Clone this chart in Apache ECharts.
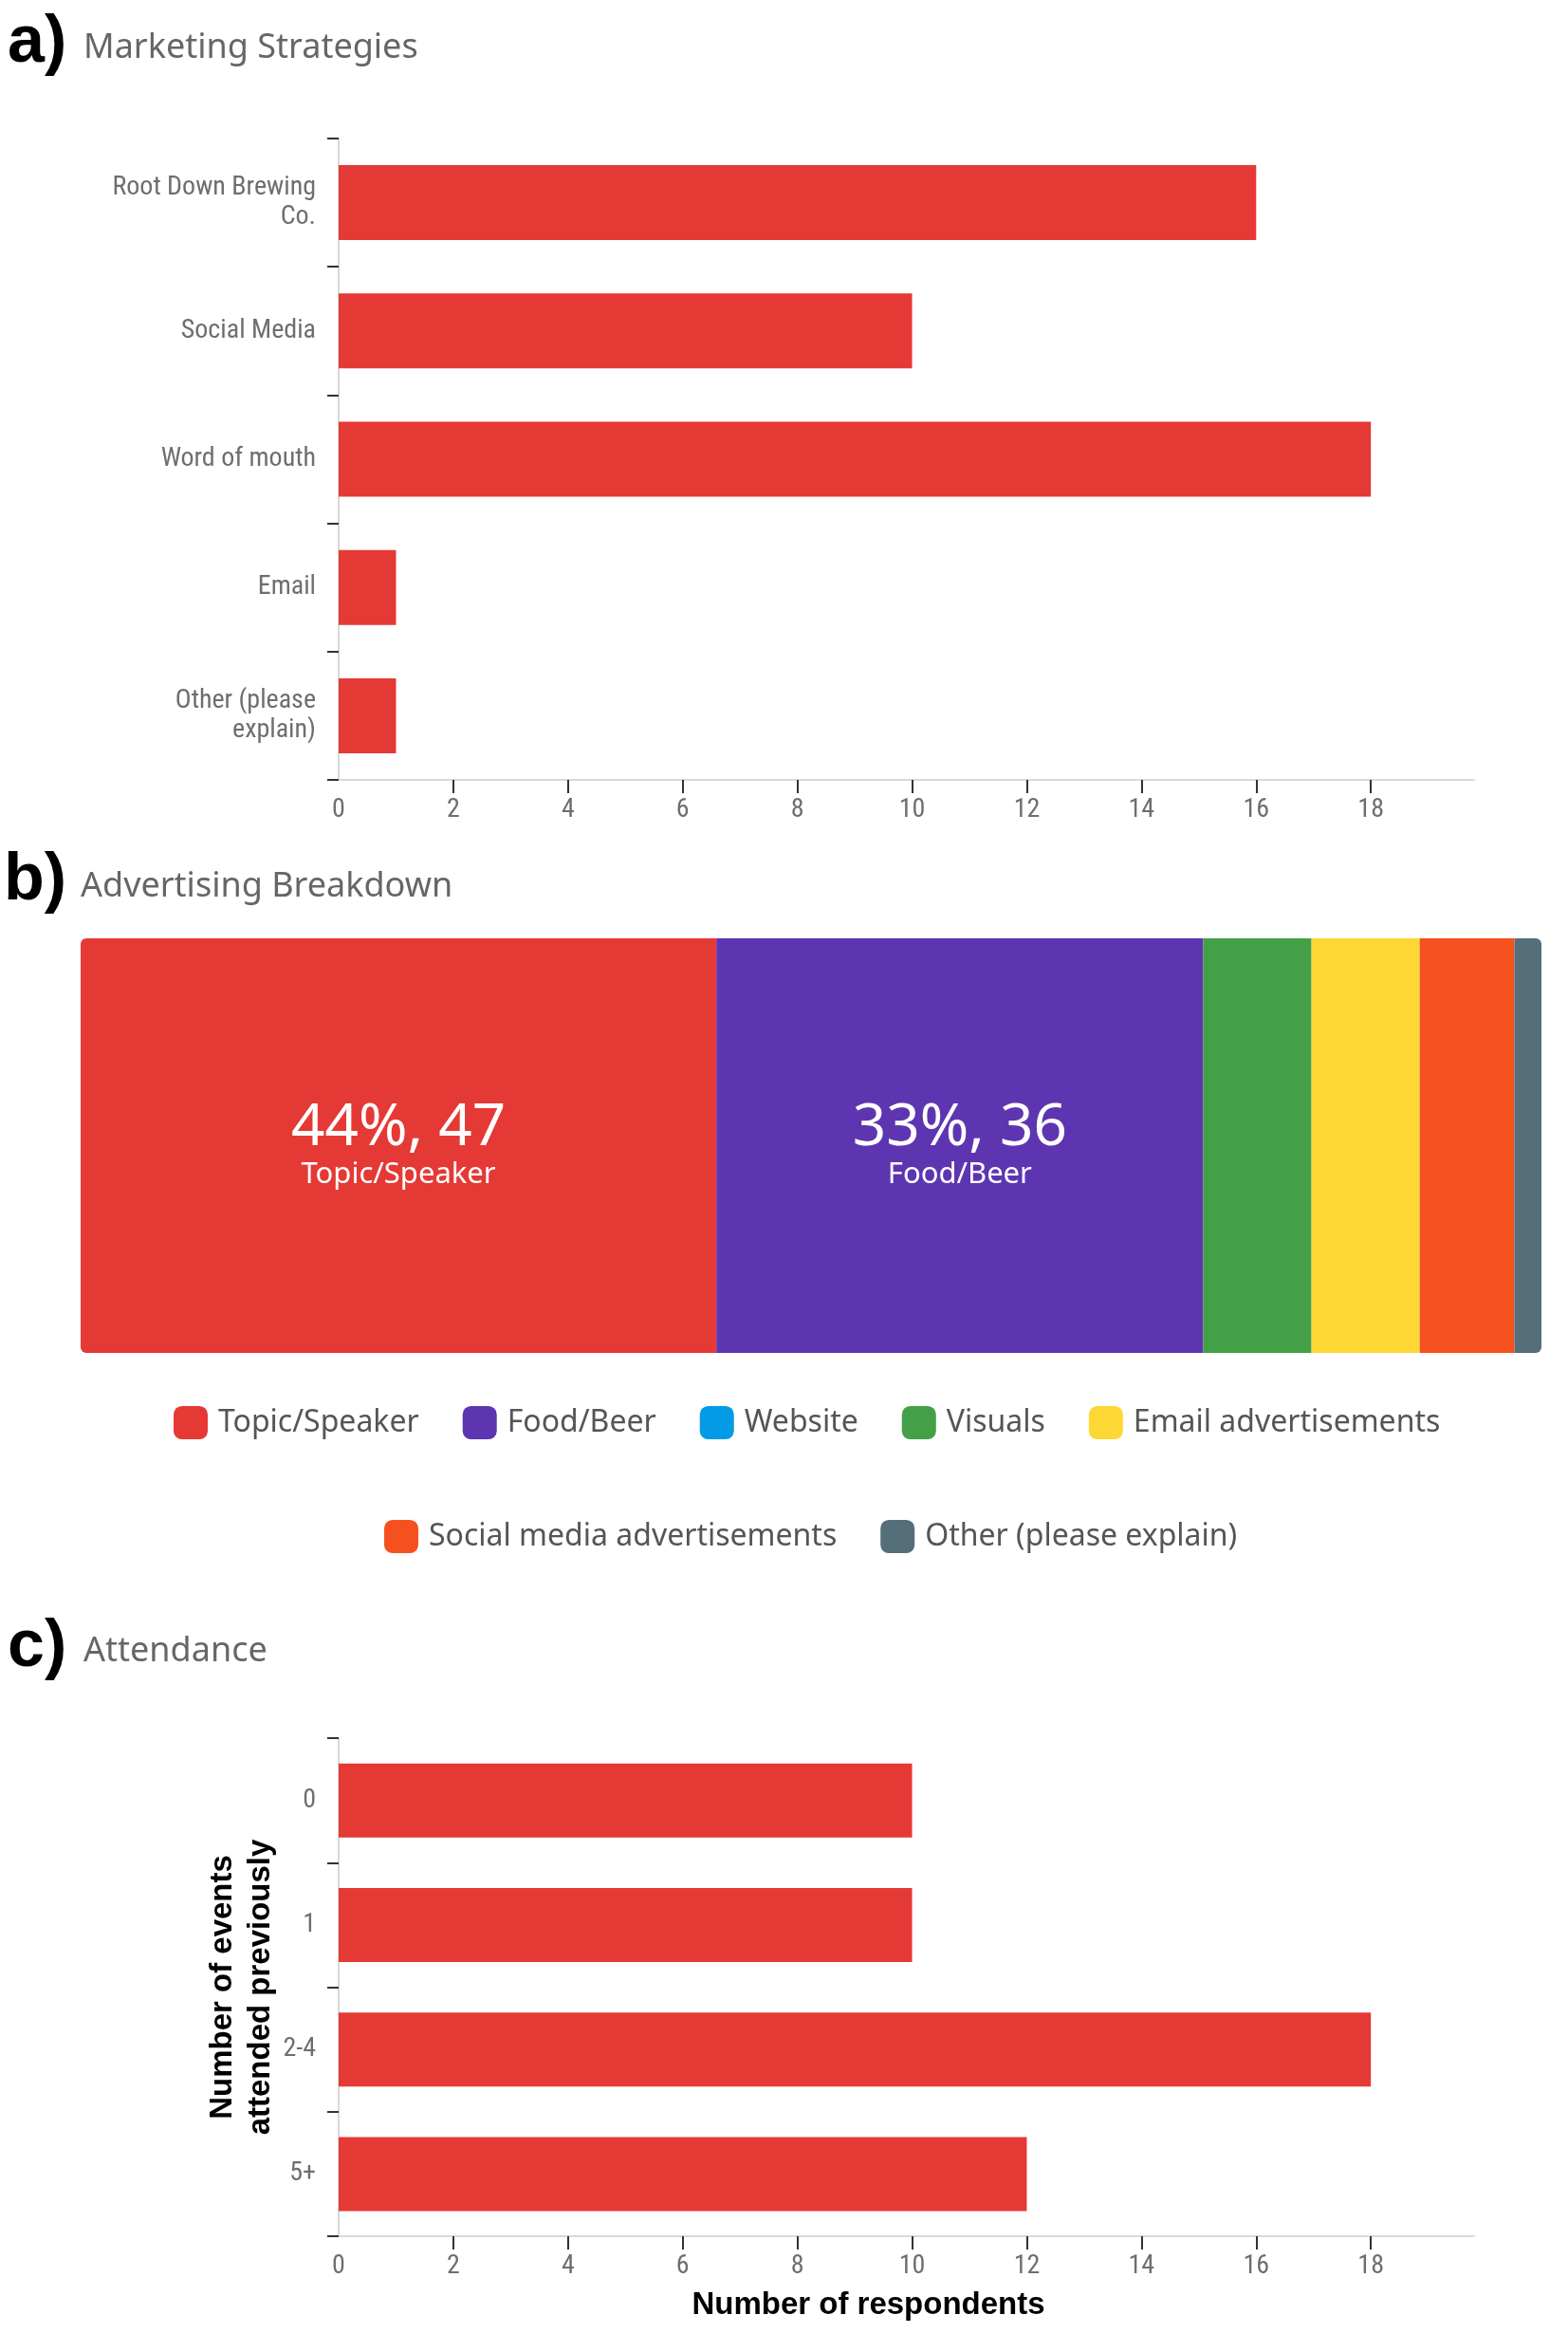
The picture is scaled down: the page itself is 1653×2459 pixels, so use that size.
<!DOCTYPE html>
<html>
<head>
    <meta charset="utf-8">
    <title>Survey results</title>
    <script src="https://cdn.jsdelivr.net/npm/echarts@6/dist/echarts.min.js"></script>
    <style>
        html, body { margin: 0; padding: 0; background: #fff; }
        #main { width: 1653px; height: 2459px; }
    </style>
</head>
<body>
<div id="main"></div>
<script type="text/javascript">
    // a) Marketing Strategies
    let strategyNames = ['Root Down Brewing\nCo.', 'Social Media', 'Word of mouth', 'Email', 'Other (please\nexplain)']
    let strategyCounts = [16, 10, 18, 1, 1]

    // b) Advertising Breakdown
    let adNames = ['Topic/Speaker', 'Food/Beer', 'Website', 'Visuals', 'Email advertisements',
        'Social media advertisements', 'Other (please explain)']
    let adCounts = [47, 36, 0, 8, 8, 7, 2]
    let adColors = ['#e53935', '#5e35b1', '#039be5', '#43a047', '#fdd835', '#f4511e', '#546e7a']

    // c) Attendance
    let attendNames = ['0', '1', '2-4', '5+']
    let attendCounts = [10, 10, 18, 12]

    // shared x axis ticks for a) and c)
    let xTickLabels = [0, 2, 4, 6, 8, 10, 12, 14, 16, 18]
    let xTickMarks = [2, 4, 6, 8, 10, 12, 14, 16, 18]
    let xMax = 19.8

    let narrowFont = "'Liberation Sans Narrow', 'Roboto Condensed', 'DejaVu Sans Condensed', Roboto, sans-serif"
    let labelGray = '#6e6e6e'
    let red = '#e53935'

    let adTotal = adCounts.reduce((s, v) => s + v, 0)

    let myChart = echarts.init(document.getElementById('main'))

    function catAxis(gridIndex, data) {
        return {
            type: 'category',
            gridIndex: gridIndex,
            data: data,
            inverse: true,
            axisLine: { show: true, lineStyle: { color: '#d9d9d9', width: 2 } },
            axisTick: { show: true, length: 12, lineStyle: { color: '#333', width: 2 } },
            axisLabel: { color: labelGray, fontSize: 28, fontFamily: narrowFont, margin: 24, lineHeight: 31 }
        }
    }

    function valAxis(gridIndex) {
        return {
            type: 'value',
            gridIndex: gridIndex,
            min: 0,
            max: xMax,
            interval: 2,
            axisLine: { show: true, lineStyle: { color: '#d9d9d9', width: 2 } },
            axisTick: { show: true, length: 14, lineStyle: { color: '#333', width: 2 }, customValues: xTickMarks },
            axisLabel: { color: labelGray, fontSize: 28, fontFamily: narrowFont, margin: 18, customValues: xTickLabels },
            splitLine: { show: false }
        }
    }

    // stacked bar series for b)
    let adSeries = adNames.map(function (name, i) {
        let radius = [0, 0, 0, 0]
        if (i === 0) radius = [6, 0, 0, 6]
        if (i === adNames.length - 1) radius = [0, 6, 6, 0]
        return {
            name: name,
            type: 'bar',
            stack: 'ads',
            xAxisIndex: 1,
            yAxisIndex: 1,
            barWidth: '100%',
            data: [adCounts[i]],
            itemStyle: { color: adColors[i], borderRadius: radius },
            label: {
                show: adCounts[i] / adTotal > 0.15,
                position: 'inside',
                formatter: function (p) {
                    return '{big|' + Math.round(p.value / adTotal * 100) + '%, ' + p.value + '}\n{small|' + p.seriesName + '}'
                },
                rich: {
                    big: { fontSize: 62, lineHeight: 62, color: '#fff', fontFamily: 'Noto Sans', align: 'center' },
                    small: { fontSize: 31, lineHeight: 36, color: '#fff', fontFamily: 'Noto Sans', align: 'center' }
                }
            }
        }
    })

    function panelText(x, y, text, font, color) {
        return { type: 'text', x: x, y: y, style: { text: text, font: font, fill: color, verticalAlign: 'middle' } }
    }

    let legendText = { fontSize: 32, fontFamily: 'Noto Sans', color: '#555', padding: [0, 0, 0, 6] }

    let option = {
        animation: false,
        backgroundColor: '#fff',
        graphic: [
            panelText(8, 46, 'a)', "bold 70px 'Liberation Sans', Arial", '#000'),
            panelText(88, 51, 'Marketing Strategies', "36px 'Noto Sans'", '#666'),
            panelText(4, 929, 'b)', "bold 70px 'Liberation Sans', Arial", '#000'),
            panelText(85, 935, 'Advertising Breakdown', "36px 'Noto Sans'", '#666'),
            panelText(8, 1737, 'c)', "bold 70px 'Liberation Sans', Arial", '#000'),
            panelText(88, 1741, 'Attendance', "36px 'Noto Sans'", '#666')
        ],
        legend: [
            {
                data: adNames.slice(0, 5),
                left: 178, top: 1477,
                icon: 'roundRect', itemWidth: 36, itemHeight: 35, itemGap: 46,
                selectedMode: false,
                textStyle: legendText
            },
            {
                data: adNames.slice(5),
                left: 400, top: 1597,
                icon: 'roundRect', itemWidth: 36, itemHeight: 35, itemGap: 46,
                selectedMode: false,
                textStyle: legendText
            }
        ],
        grid: [
            { left: 357, top: 146, width: 1197, height: 676 },
            { left: 85, top: 989, width: 1540, height: 437 },
            { left: 357, top: 1832, width: 1197, height: 525 }
        ],
        xAxis: [
            valAxis(0),
            { type: 'value', gridIndex: 1, min: 0, max: adTotal, show: false },
            Object.assign(valAxis(2), {
                name: 'Number of respondents',
                nameLocation: 'middle',
                nameGap: 56,
                nameMoveOverlap: false,
                nameTextStyle: { fontSize: 33, fontWeight: 'bold', color: '#000', fontFamily: "'Liberation Sans', Arial", padding: [0, 80, 0, 0] }
            })
        ],
        yAxis: [
            catAxis(0, strategyNames),
            { type: 'category', gridIndex: 1, data: ['Advertising'], show: false },
            Object.assign(catAxis(2, attendNames), {
                name: 'Number of events\nattended previously',
                nameLocation: 'middle',
                nameGap: 62,
                nameMoveOverlap: false,
                nameTextStyle: { fontSize: 33, fontWeight: 'bold', color: '#000', fontFamily: "'Liberation Sans', Arial", lineHeight: 40, align: 'center' }
            })
        ],
        series: [
            {
                name: 'Marketing Strategies',
                type: 'bar',
                xAxisIndex: 0,
                yAxisIndex: 0,
                barWidth: 79,
                data: strategyCounts,
                itemStyle: { color: red }
            }
        ].concat(adSeries).concat([
            {
                name: 'Attendance',
                type: 'bar',
                xAxisIndex: 2,
                yAxisIndex: 2,
                barWidth: 78,
                data: attendCounts,
                itemStyle: { color: red }
            }
        ])
    }

    myChart.setOption(option)
</script>
</body>
</html>
